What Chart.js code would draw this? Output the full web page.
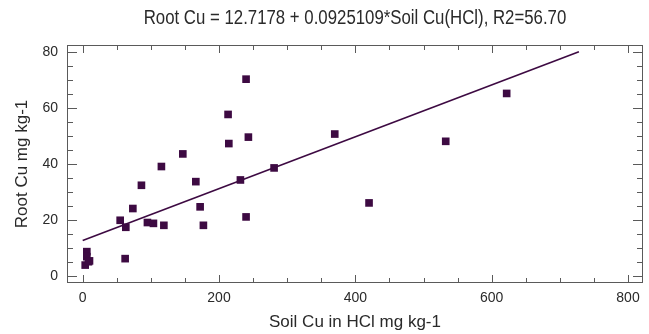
<!DOCTYPE html>
<html>
<head>
<meta charset="utf-8">
<script src="https://cdn.jsdelivr.net/npm/chart.js@4/dist/chart.umd.min.js"></script>
<style>
  html, body { margin: 0; padding: 0; background: #fff; }
  #c { display: block; }
</style>
</head>
<body>
<canvas id="c" width="649" height="334"></canvas>
<script>
// ---- data ----
const soilCu = [3.7, 6.1, 6.1, 8.5, 10.0, 55.0, 63.3, 62.3, 73.6, 86.2, 95.0, 103.8, 115.5, 119.1,
                146.9, 166.0, 172.3, 177.1, 213.3, 214.4, 231.4, 239.7, 239.7, 243.1, 280.8,
                369.8, 420.1, 532.6, 622.0];
const rootCu = [3.9, 8.7, 6.9, 5.1, 5.4, 19.9, 17.4, 6.2, 24.1, 32.4, 19.1, 18.8, 39.1, 18.1,
                43.6, 33.7, 24.7, 18.1, 57.7, 47.3, 34.3, 70.3, 21.1, 49.6, 38.6,
                50.7, 26.1, 48.1, 65.2];
const fitX = [0, 728];
const fitY = [12.72, 80.06];
const xTicks = [0, 200, 400, 600, 800];
const yTicks = [0, 20, 40, 60, 80];
const titleText = 'Root Cu = 12.7178 + 0.0925109*Soil Cu(HCl), R2=56.70';
const xTitle = 'Soil Cu in HCl mg kg-1';
const yTitle = 'Root Cu mg kg-1';

const FONT = "'Liberation Sans', Arial, sans-serif";
const MARK = '#3d0a42';
const TEXT = '#2a2a2a';
const FRAME = '#5a5a5a';
const NARROW = 0.84;

const points = soilCu.map((x, i) => ({ x: x, y: rootCu[i] }));
const fitLine = fitX.map((x, i) => ({ x: x, y: fitY[i] }));

const frameTicks = {
  id: 'frameTicks',
  afterDraw(chart) {
    const { ctx, chartArea: a, scales } = chart;
    const xs = scales.x, ys = scales.y;
    ctx.save();
    ctx.strokeStyle = FRAME;
    ctx.lineWidth = 1;
    ctx.strokeRect(a.left + 0.5, a.top + 0.5, a.right - a.left - 1, a.bottom - a.top - 1);
    ctx.beginPath();
    for (let v = 0; v <= 800; v += 50) {
      const px = Math.round(xs.getPixelForValue(v)) + 0.5;
      const len = v % 200 === 0 ? 8 : 5;
      ctx.moveTo(px, a.bottom); ctx.lineTo(px, a.bottom - len);
      ctx.moveTo(px, a.top); ctx.lineTo(px, a.top + len);
    }
    for (let v = 0; v <= 80; v += 5) {
      const py = Math.round(ys.getPixelForValue(v)) + 0.5;
      const len = v % 20 === 0 ? 10 : 6;
      ctx.moveTo(a.left, py); ctx.lineTo(a.left + len, py);
      ctx.moveTo(a.right, py); ctx.lineTo(a.right - len, py);
    }
    ctx.stroke();
    // chart title, centred over the plot area, in a condensed look
    ctx.fillStyle = TEXT;
    ctx.font = '20px ' + FONT;
    ctx.textAlign = 'center';
    ctx.textBaseline = 'middle';
    ctx.translate((a.left + a.right) / 2, 18);
    ctx.scale(NARROW, 1);
    ctx.fillText(titleText, 0, 0);
    ctx.restore();
  }
};

new Chart(document.getElementById('c'), {
  type: 'scatter',
  data: {
    datasets: [
      {
        data: points,
        pointStyle: 'rect',
        pointRadius: 5.4,
        pointHoverRadius: 5.4,
        backgroundColor: MARK,
        borderColor: MARK,
        borderWidth: 0
      },
      {
        data: fitLine,
        showLine: true,
        borderColor: MARK,
        borderWidth: 1.6,
        pointRadius: 0,
        fill: false
      }
    ]
  },
  options: {
    responsive: false,
    devicePixelRatio: 1,
    animation: false,
    layout: { padding: { top: 45, right: 6, left: 0, bottom: 0 } },
    plugins: {
      legend: { display: false },
      tooltip: { enabled: false },
      title: { display: false }
    },
    scales: {
      x: {
        type: 'linear',
        min: -23,
        max: 822,
        afterBuildTicks: (s) => { s.ticks = xTicks.map(v => ({ value: v })); },
        afterFit: (s) => { s.height = 51; },
        grid: { display: false, drawTicks: false },
        border: { display: false },
        ticks: { padding: 7, color: TEXT, font: { family: FONT, size: 14 }, maxRotation: 0 },
        title: {
          display: true, text: xTitle, color: TEXT,
          font: { family: FONT, size: 17 }, padding: { top: 0, bottom: 1 }
        }
      },
      y: {
        type: 'linear',
        min: -2.5,
        max: 82.5,
        afterBuildTicks: (s) => { s.ticks = yTicks.map(v => ({ value: v })); },
        afterFit: (s) => { s.width = 67; },
        grid: { display: false, drawTicks: false },
        border: { display: false },
        ticks: { padding: 9, color: TEXT, font: { family: FONT, size: 14 } },
        title: {
          display: true, text: yTitle, color: TEXT,
          font: { family: FONT, size: 17 }, padding: { top: 12, bottom: 0 }
        }
      }
    }
  },
  plugins: [frameTicks]
});
</script>
</body>
</html>
